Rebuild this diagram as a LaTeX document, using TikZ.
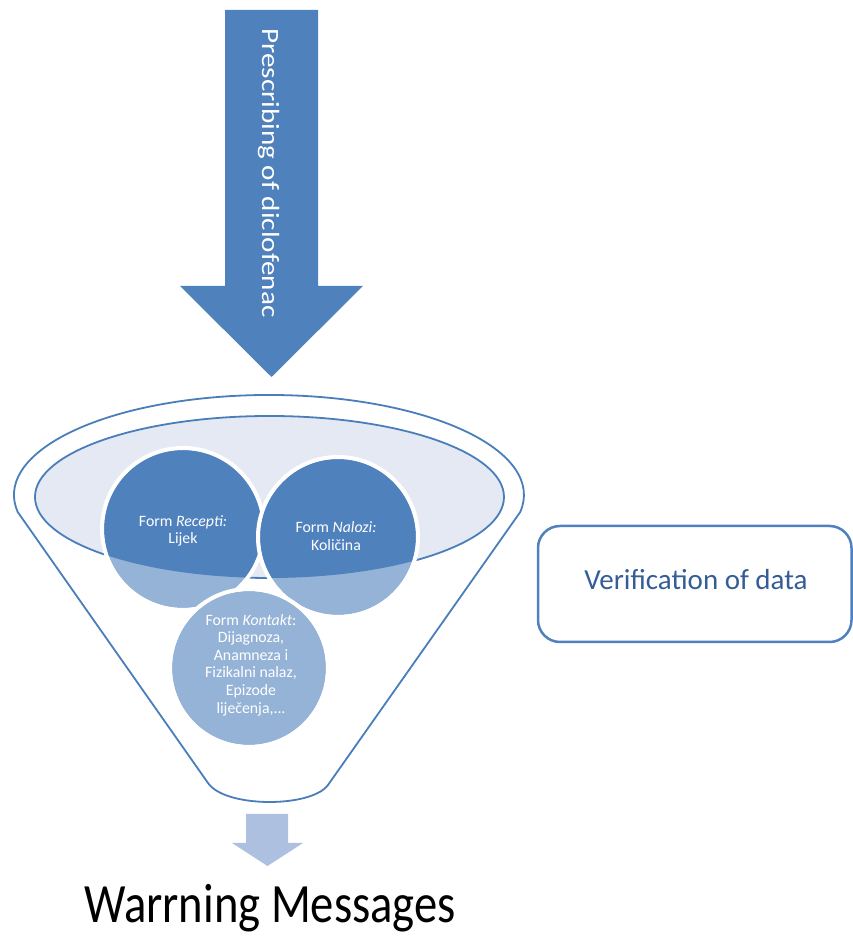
\documentclass[tikz,border=0pt]{standalone}
\usepackage{fontspec}
\setmainfont{Carlito}
\usepackage{graphicx}
\definecolor{dkblue}{RGB}{79,129,189}
\definecolor{ltblue}{RGB}{149,179,215}
\definecolor{pale}{RGB}{228,233,243}
\definecolor{arrowlt}{RGB}{174,192,224}
\definecolor{linec}{RGB}{74,126,187}
\definecolor{vtext}{RGB}{52,92,150}
\begin{document}
\begin{tikzpicture}[x=1pt,y=1pt,
  funnelline/.style={draw=linec, line width=1.8pt, line join=round},
  ring/.style={draw=white, line width=4pt},
  formtext/.style={text=white, align=center, font=\fontsize{15.8}{17.6}\selectfont, inner sep=0pt},
  blockarrow/.style={line join=miter},
]
\useasboundingbox (0,0) rectangle (853,936);
% top block arrow
\fill[dkblue, blockarrow] (225,926) -- (318,926) -- (318,650) -- (363,650) -- (271.5,559) -- (180,650) -- (225,650) -- cycle;
\node[rotate=-90, anchor=base, text=white, inner sep=0pt, font=\fontsize{24.8}{30}\selectfont] (presc) at (262,763) {\scalebox{1.175}[1]{Prescribing of diclofenac}};
% funnel outline
\draw[funnelline] (17.7,424) arc[start angle=189.8, end angle=-9.8, x radius=255pt, y radius=100pt] -- (328,151) .. controls (311,128) and (225,128) .. (208,153) -- cycle;
% inner ellipse
\coordinate (ec) at (269.5,439);
\fill[pale] (ec) ellipse [x radius=234.5pt, y radius=81pt];
\draw[funnelline] (ec) ellipse [x radius=234.5pt, y radius=81pt];
% circles
\coordinate (rc) at (183,407);
\coordinate (nc) at (338,399);
\coordinate (kc) at (249,268);
\fill[ltblue] (rc) circle[radius=79pt];
\begin{scope}
  \clip (ec) ellipse [x radius=234.5pt, y radius=81pt];
  \fill[dkblue] (rc) circle[radius=79pt];
\end{scope}
\draw[ring] (rc) circle[radius=81pt];
\fill[ltblue] (nc) circle[radius=78pt];
\begin{scope}
  \clip (ec) ellipse [x radius=234.5pt, y radius=81pt];
  \fill[dkblue] (nc) circle[radius=78pt];
\end{scope}
\draw[ring] (nc) circle[radius=80pt];
\fill[ltblue] (kc) circle[radius=77pt];
\draw[ring] (kc) circle[radius=79pt];
% texts
\node[formtext] (rtext) at (183,405) {Form \textit{Recepti:}\\Lijek};
\node[formtext] (ntext) at (336,400) {Form \textit{Nalozi:}\\Količina};
\node[formtext] (ktext) at (251,271) {Form \textit{Kontakt}:\\Dijagnoza,\\Anamneza i\\Fizikalni nalaz,\\Epizode\\liječenja,...};
% verification box
\node[draw=dkblue, line width=2.5pt, rounded corners=22pt, minimum width=313.5pt, minimum height=116pt, inner sep=0pt] (verbox) at (694.75,352) {};
\node[anchor=base, text=vtext, font=\fontsize{29}{35}\selectfont, inner sep=0pt] (vtxt) at (696,346) {Verification of data};
% bottom block arrow
\fill[arrowlt, blockarrow] (246,122) -- (288,122) -- (288,93) -- (303,93) -- (267.5,70) -- (232,93) -- (246,93) -- cycle;
\node[anchor=base, inner sep=0pt, font=\fontsize{46.6}{56}\selectfont] (warn) at (270,13) {\scalebox{1}[1.19]{Warrning Messages}};
\end{tikzpicture}
\end{document}
